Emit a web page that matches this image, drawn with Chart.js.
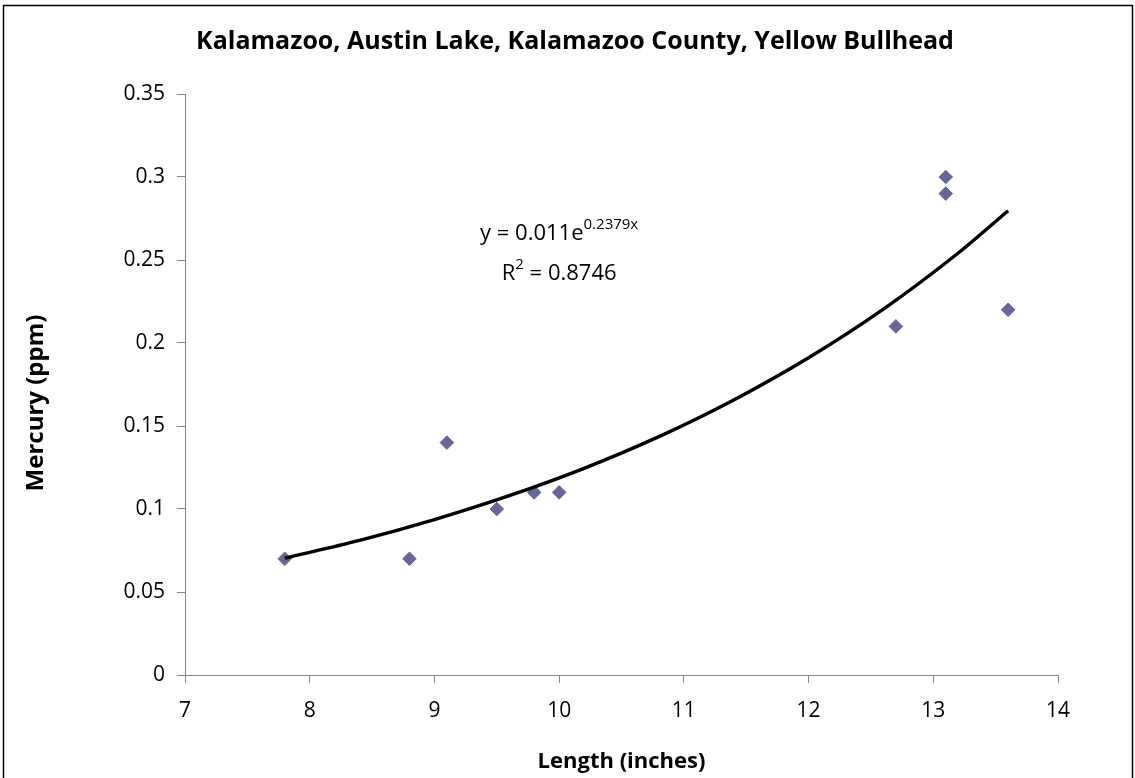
<!DOCTYPE html>
<html>
<head>
<meta charset="utf-8">
<title>Kalamazoo, Austin Lake, Kalamazoo County, Yellow Bullhead</title>
<script src="https://cdn.jsdelivr.net/npm/chart.js@4.4.1/dist/chart.umd.min.js"></script>
<style>
  html, body { margin: 0; padding: 0; background: #fff; }
  #wrap { width: 1135px; height: 778px; position: relative; }
</style>
</head>
<body>
<div id="wrap"><canvas id="mercuryChart"></canvas></div>
<script>
// fish samples (length in inches, mercury in ppm)
const lengths = [7.8, 8.8, 9.1, 9.5, 9.8, 10.0, 12.7, 13.1, 13.1, 13.6];
const mercury = [0.07, 0.07, 0.14, 0.10, 0.11, 0.11, 0.21, 0.30, 0.29, 0.22];

// exponential trendline
const trendLengths = [7.8, 8.4, 9.0, 9.6, 10.2, 10.8, 11.4, 12.0, 12.6, 13.2, 13.6];
const trendMercury = [0.0704, 0.0811, 0.0936, 0.108, 0.1245, 0.1436, 0.1657, 0.1911, 0.2204, 0.2542, 0.2797];

const xTicks = [7, 8, 9, 10, 11, 12, 13, 14];
const yTicks = [0, 0.05, 0.1, 0.15, 0.2, 0.25, 0.3, 0.35];

const chartTitle = 'Kalamazoo, Austin Lake, Kalamazoo County, Yellow Bullhead';
const xTitle = 'Length (inches)';
const yTitle = 'Mercury (ppm)';
const equation = { base: 'y = 0.011e', exp: '0.2379x' };
const rSquared = { base: 'R', exp: '2', rest: ' = 0.8746' };

const FONT = '"Open Sans", Lato, sans-serif';
const AXIS_COLOR = '#868686';

Chart.defaults.font.family = FONT;
Chart.defaults.color = '#000';

// frame, chart title, y title and trendline equation
const extras = {
	id: 'extras',
	afterDraw (chart) {
		const ctx = chart.ctx;
		const { x, y } = chart.scales;
		ctx.save();

		ctx.strokeStyle = '#000';
		ctx.lineWidth = 1.5;
		ctx.strokeRect(3.5, 5.5, 1129, 800);

		// chart title
		ctx.font = 'bold 25px ' + FONT;
		ctx.textAlign = 'center';
		ctx.textBaseline = 'alphabetic';
		ctx.fillText(chartTitle, 575, 49);

		// y axis title
		ctx.translate(36, 403);
		ctx.rotate(-Math.PI / 2);
		ctx.font = 'bold 24px ' + FONT;
		ctx.textAlign = 'center';
		ctx.textBaseline = 'middle';
		ctx.fillText(yTitle, 0, 0);
		ctx.setTransform(1, 0, 0, 1, 0, 0);

		// equation + R²
		const cx = x.getPixelForValue(10.0);
		const big = '22px ' + FONT;
		const small = '15px ' + FONT;
		ctx.textAlign = 'left';
		ctx.textBaseline = 'alphabetic';

		ctx.font = big;
		const w1 = ctx.measureText(equation.base).width;
		ctx.font = small;
		const w2 = ctx.measureText(equation.exp).width;
		let sx = cx - (w1 + w2) / 2;
		let by = y.getPixelForValue(0.262);
		ctx.font = big;
		ctx.fillText(equation.base, sx, by);
		ctx.font = small;
		ctx.fillText(equation.exp, sx + w1, by - 11);

		ctx.font = big;
		const r1 = ctx.measureText(rSquared.base).width;
		const r3 = ctx.measureText(rSquared.rest).width;
		ctx.font = small;
		const r2 = ctx.measureText(rSquared.exp).width;
		sx = cx - (r1 + r2 + r3) / 2;
		by = y.getPixelForValue(0.238);
		ctx.font = big;
		ctx.fillText(rSquared.base, sx, by);
		ctx.font = small;
		ctx.fillText(rSquared.exp, sx + r1, by - 11);
		ctx.font = big;
		ctx.fillText(rSquared.rest, sx + r1 + r2, by);

		ctx.restore();
	}
};

const ctx = document.getElementById('mercuryChart').getContext('2d');

const myChart = new Chart(ctx, {
	type: 'scatter',
	data: {
		datasets: [
			{
				type: 'line',
				label: 'Expon. trend',
				data: trendLengths.map((v, i) => ({ x: v, y: trendMercury[i] })),
				borderColor: '#000',
				borderWidth: 3.4,
				pointRadius: 0,
				cubicInterpolationMode: 'monotone',
				fill: false,
				order: 0
			},
			{
				label: 'Mercury',
				data: lengths.map((v, i) => ({ x: v, y: mercury[i] })),
				pointStyle: 'rectRot',
				pointRadius: 6.8,
				backgroundColor: '#666699',
				borderColor: '#666699',
				borderWidth: 1,
				order: 1
			}
		]
	},
	plugins: [extras],
	options: {
		responsive: true,
		maintainAspectRatio: false,
		animation: false,
		layout: { padding: { left: 0, right: 77, top: 94, bottom: 0 } },
		plugins: {
			legend: { display: false },
			tooltip: { enabled: false },
			title: { display: false }
		},
		scales: {
			x: {
				type: 'linear',
				min: 7,
				max: 14,
				afterBuildTicks: axis => { axis.ticks = xTicks.map(v => ({ value: v })); },
				afterFit: axis => { axis.height = 103; },
				grid: { drawOnChartArea: false, drawTicks: true, tickLength: 8, color: AXIS_COLOR },
				border: { color: AXIS_COLOR, width: 1 },
				ticks: { font: { size: 21 }, padding: 15, color: '#000' },
				title: {
					display: true,
					text: xTitle,
					font: { size: 22, weight: 'bold' },
					padding: { top: 6, bottom: 3 }
				}
			},
			y: {
				type: 'linear',
				min: 0,
				max: 0.35,
				afterBuildTicks: axis => { axis.ticks = yTicks.map(v => ({ value: v })); },
				afterFit: axis => { axis.width = 185; },
				grid: { drawOnChartArea: false, drawTicks: true, tickLength: 8, color: AXIS_COLOR },
				border: { color: AXIS_COLOR, width: 1 },
				ticks: {
					font: { size: 21 },
					padding: 12,
					color: '#000',
					callback: v => String(+v.toFixed(2))
				}
			}
		}
	}
});
</script>
</body>
</html>
